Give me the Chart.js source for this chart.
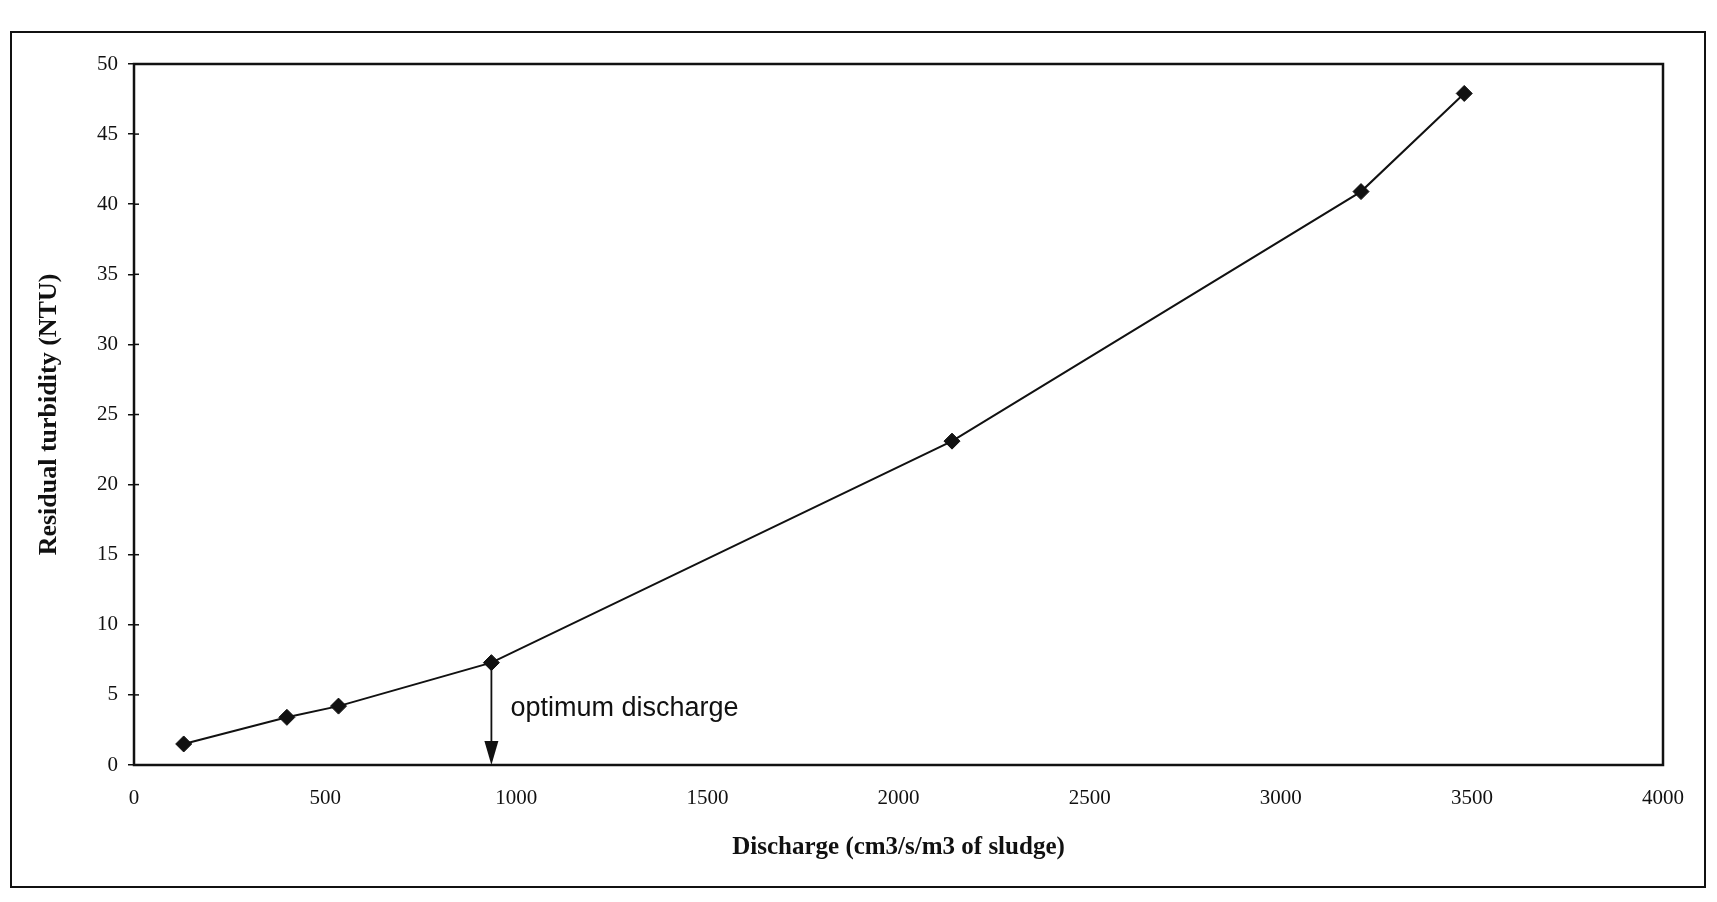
<!DOCTYPE html>
<html>
<head>
<meta charset="utf-8">
<title>Residual turbidity vs discharge</title>
<script src="https://cdn.jsdelivr.net/npm/chart.js@4.4.1/dist/chart.umd.min.js"></script>
<style>
    html, body { margin: 0; padding: 0; background: #fff; }
    #wrap { width: 1717px; height: 902px; position: relative; }
</style>
</head>
<body>
<div id="wrap"><canvas id="turbidityChart"></canvas></div>
<script>
// Values
const discharge = [130, 400, 535, 935, 2140, 3210, 3480];
const turbidity = [1.5, 3.4, 4.2, 7.3, 23.1, 40.9, 47.9];
const xTicks = [0, 500, 1000, 1500, 2000, 2500, 3000, 3500, 4000];
const yTicks = [0, 5, 10, 15, 20, 25, 30, 35, 40, 45, 50];
const optimumDischarge = 935;
const optimumLabel = 'optimum discharge';

const ink = '#111';
Chart.defaults.font.family = "'Liberation Serif', 'Times New Roman', serif";
Chart.defaults.color = ink;

// Frame, inner tick marks and the "optimum discharge" arrow
const figurePlugin = {
    id: 'figure',
    beforeDraw(chart) {
        const ctx = chart.ctx;
        ctx.save();
        ctx.fillStyle = '#fff';
        ctx.fillRect(0, 0, chart.width, chart.height);
        ctx.strokeStyle = ink;
        ctx.lineWidth = 2;
        ctx.strokeRect(11, 32, 1694, 855);
        ctx.restore();
    },
    beforeDatasetsDraw(chart) {
        const { ctx, chartArea: a, scales: { y } } = chart;
        ctx.save();
        ctx.strokeStyle = ink;
        ctx.lineWidth = 2.5;
        ctx.strokeRect(a.left, a.top, a.right - a.left, a.bottom - a.top);
        ctx.lineWidth = 1.5;
        y.ticks.forEach(t => {
            const py = y.getPixelForValue(t.value);
            ctx.beginPath();
            ctx.moveTo(a.left, py);
            ctx.lineTo(a.left + 5, py);
            ctx.stroke();
        });
        ctx.restore();
    },
    afterDatasetsDraw(chart) {
        const { ctx, scales: { x, y } } = chart;
        const i = discharge.indexOf(optimumDischarge);
        const px = x.getPixelForValue(optimumDischarge);
        const top = y.getPixelForValue(turbidity[i]);
        const bottom = y.getPixelForValue(0);
        ctx.save();
        ctx.strokeStyle = ink;
        ctx.fillStyle = ink;
        ctx.lineWidth = 1.8;
        ctx.beginPath();
        ctx.moveTo(px, top);
        ctx.lineTo(px, bottom - 20);
        ctx.stroke();
        ctx.beginPath();
        ctx.moveTo(px - 7, bottom - 24);
        ctx.lineTo(px + 7, bottom - 24);
        ctx.lineTo(px, bottom);
        ctx.closePath();
        ctx.fill();
        ctx.font = "27px 'Liberation Sans', Arial, sans-serif";
        ctx.textBaseline = 'middle';
        ctx.fillText(optimumLabel, px + 19, bottom - 56);
        ctx.restore();
    }
};

new Chart(document.getElementById('turbidityChart'), {
    type: 'line',
    data: {
        datasets: [{
            data: discharge.map((d, i) => ({ x: d, y: turbidity[i] })),
            borderColor: ink,
            backgroundColor: ink,
            borderWidth: 2,
            pointStyle: 'rectRot',
            pointRadius: 8,
            pointBorderWidth: 1,
            tension: 0
        }]
    },
    options: {
        responsive: true,
        maintainAspectRatio: false,
        animation: false,
        layout: { padding: { left: 20, top: 64, right: 54, bottom: 37 } },
        plugins: {
            legend: { display: false },
            tooltip: { enabled: false }
        },
        scales: {
            x: {
                type: 'linear',
                min: 0,
                max: 4000,
                afterBuildTicks: s => { s.ticks = xTicks.map(v => ({ value: v })); },
                afterFit: s => { s.height = 100; },
                grid: { display: false, drawTicks: false },
                border: { display: false },
                ticks: {
                    autoSkip: false,
                    maxRotation: 0,
                    padding: 21,
                    font: { size: 21 },
                    callback: v => String(v)
                },
                title: {
                    display: true,
                    text: 'Discharge (cm3/s/m3 of sludge)',
                    font: { size: 25, weight: 'bold' },
                    padding: { top: 0, bottom: 2 }
                }
            },
            y: {
                min: 0,
                max: 50,
                afterBuildTicks: s => { s.ticks = yTicks.map(v => ({ value: v })); },
                afterFit: s => { s.width = 114; },
                grid: {
                    drawOnChartArea: false,
                    drawTicks: true,
                    tickLength: 6,
                    color: ink,
                    lineWidth: 1.5
                },
                border: { display: false },
                ticks: {
                    padding: 10,
                    font: { size: 21 },
                    callback: v => String(v)
                },
                title: {
                    display: true,
                    text: 'Residual turbidity (NTU)',
                    font: { size: 26, weight: 'bold' },
                    padding: { top: 14, bottom: 0 }
                }
            }
        }
    },
    plugins: [figurePlugin]
});
</script>
</body>
</html>
